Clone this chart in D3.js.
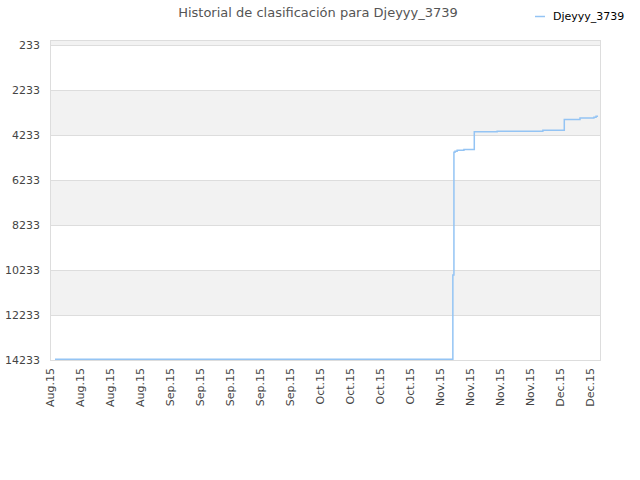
<!DOCTYPE html>
<html>
<head>
<meta charset="utf-8">
<script src="https://cdn.jsdelivr.net/npm/d3@7"></script>
<style>
  body { margin: 0; background: #fff; }
  svg { display: block; font-family: "DejaVu Sans", sans-serif; }
</style>
</head>
<body>
<svg id="chart" width="640" height="480"></svg>
<script>
// ----------------------------------------------------------------------------
// Data
// ----------------------------------------------------------------------------

var playerName = "Djeyyy_3739";

// Ranking history: dates and ranks (step line).
var rankDates = [
    "2015-08-06T04:00", "2015-11-07T00:00", "2015-11-07T06:00",
    "2015-11-07T12:00", "2015-11-08T00:00", "2015-11-09T14:00",
    "2015-11-12T00:00", "2015-11-17T08:00", "2015-11-28T00:00",
    "2015-12-03T00:00", "2015-12-06T16:00", "2015-12-09T22:00",
    "2015-12-10T10:00", "2015-12-10T21:00"
];
var rankValues = [
    14200, 10455, 4989,
    4945, 4900, 4870,
    4086, 4055, 4010,
    3535, 3464, 3433,
    3390, 3390
];

// Axis ticks.
var yTicks = [233, 2233, 4233, 6233, 8233, 10233, 12233, 14233];
var xTickDates = [
    "2015-08-05", "2015-08-12", "2015-08-19", "2015-08-26",
    "2015-09-02", "2015-09-09", "2015-09-16", "2015-09-23", "2015-09-30",
    "2015-10-07", "2015-10-14", "2015-10-21", "2015-10-28",
    "2015-11-04", "2015-11-11", "2015-11-18", "2015-11-25",
    "2015-12-02", "2015-12-09"
];

// ----------------------------------------------------------------------------
// Drawing
// ----------------------------------------------------------------------------

var parseTime = d3.timeParse("%Y-%m-%dT%H:%M");
var parseDay = d3.timeParse("%Y-%m-%d");
var fmtTick = d3.timeFormat("%b.%y");

var data = rankDates.map(function(d, i) {
    return {date: parseTime(d), rank: rankValues[i]};
});

var margin = {top: 40, right: 40, bottom: 120, left: 50};
var width = 640 - margin.left - margin.right;
var height = 480 - margin.top - margin.bottom;

var svg = d3.select("#chart");
var g = svg.append("g")
    .attr("transform", "translate(" + margin.left + "," + margin.top + ")");

var x = d3.scaleTime()
    .domain([parseDay("2015-08-05"), d3.timeHour.offset(parseDay("2015-08-05"), Math.round(550 / 30 * 7 * 24))])
    .range([0, width]);
var y = d3.scaleLinear()
    .domain([0, 14233])
    .range([0, height]);

// Alternating background bands
var bandEdges = [0].concat(yTicks);
for (var i = 0; i < bandEdges.length - 1; i++) {
    if (i % 2 == 0) {
        g.append("rect")
            .attr("x", 0)
            .attr("y", y(bandEdges[i]))
            .attr("width", width)
            .attr("height", y(bandEdges[i + 1]) - y(bandEdges[i]))
            .attr("fill", "#f2f2f2");
    }
}

// Horizontal grid lines
g.selectAll(".grid")
    .data(yTicks)
    .enter().append("line")
    .attr("x1", 0).attr("x2", width)
    .attr("y1", function(d) { return Math.round(y(d)) + 0.5; })
    .attr("y2", function(d) { return Math.round(y(d)) + 0.5; })
    .attr("stroke", "#dddddd");

// Plot frame
g.append("rect")
    .attr("x", 0.5).attr("y", 0.5)
    .attr("width", width).attr("height", height)
    .attr("fill", "none")
    .attr("stroke", "#dddddd");

// Y axis labels
g.selectAll(".ylab")
    .data(yTicks)
    .enter().append("text")
    .attr("x", -10)
    .attr("y", function(d) { return y(d); })
    .attr("dy", "0.35em")
    .attr("text-anchor", "end")
    .attr("font-size", 11)
    .attr("fill", "#444")
    .text(function(d) { return d; });

// X axis labels (rotated)
g.selectAll(".xlab")
    .data(xTickDates)
    .enter().append("text")
    .attr("transform", function(d) {
        return "translate(" + (x(parseDay(d)) + 4) + "," + (height + 8) + ") rotate(-90)";
    })
    .attr("text-anchor", "end")
    .attr("font-size", 11)
    .attr("fill", "#444")
    .text(function(d) { return fmtTick(parseDay(d)); });

// Ranking line
var line = d3.line()
    .x(function(d) { return x(d.date); })
    .y(function(d) { return y(d.rank); })
    .curve(d3.curveStepAfter);

g.append("path")
    .datum(data)
    .attr("fill", "none")
    .attr("stroke", "#94c4f4")
    .attr("stroke-width", 1.5)
    .attr("d", line);

// Title
svg.append("text")
    .attr("x", 318)
    .attr("y", 17)
    .attr("text-anchor", "middle")
    .attr("font-size", 13)
    .attr("fill", "#555")
    .text("Historial de clasificación para " + playerName);

// Legend
svg.append("line")
    .attr("x1", 535).attr("x2", 545)
    .attr("y1", 16.5).attr("y2", 16.5)
    .attr("stroke", "#94c4f4")
    .attr("stroke-width", 1.5);
svg.append("text")
    .attr("x", 553)
    .attr("y", 20)
    .attr("font-size", 11)
    .attr("fill", "#000")
    .text(playerName);
</script>
</body>
</html>
